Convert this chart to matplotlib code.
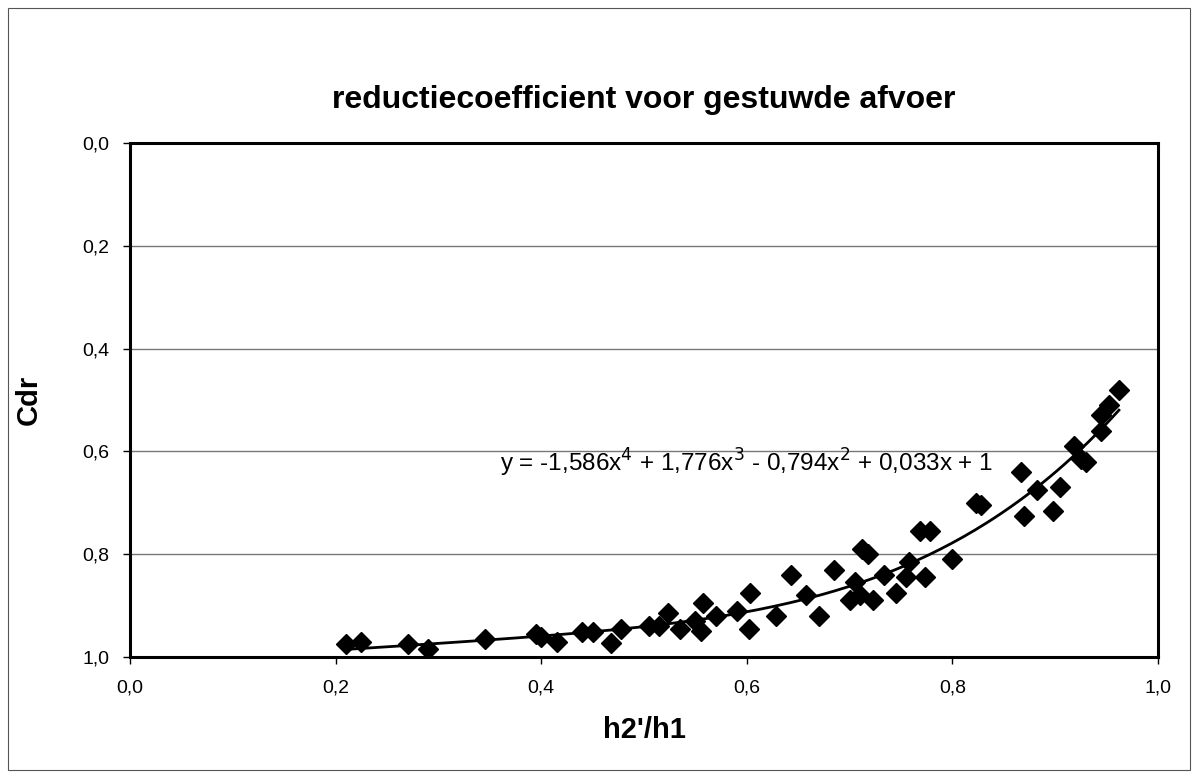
import numpy as np
import matplotlib
matplotlib.use('Agg')
from matplotlib import pyplot as plt
from matplotlib.patches import Rectangle

plt.rcParams['font.family'] = ['Liberation Sans', 'DejaVu Sans']

h_ratio = [0.210, 0.225, 0.270, 0.290, 0.345, 0.395, 0.400, 0.415, 0.440, 0.450,
           0.468, 0.478, 0.505, 0.515, 0.523, 0.535, 0.550, 0.555, 0.557, 0.570,
           0.590, 0.602, 0.603, 0.628, 0.643, 0.658, 0.670, 0.685, 0.700, 0.705,
           0.710, 0.712, 0.718, 0.723, 0.733, 0.745, 0.755, 0.758, 0.768, 0.773,
           0.778, 0.800, 0.823, 0.828, 0.867, 0.870, 0.882, 0.898, 0.905, 0.918,
           0.925, 0.930, 0.945, 0.945, 0.952, 0.962]
cdr = [0.975, 0.970, 0.975, 0.985, 0.965, 0.955, 0.962, 0.970, 0.952, 0.952,
       0.972, 0.945, 0.940, 0.940, 0.915, 0.945, 0.930, 0.950, 0.895, 0.920,
       0.910, 0.945, 0.875, 0.920, 0.840, 0.880, 0.920, 0.830, 0.890, 0.855,
       0.880, 0.790, 0.800, 0.890, 0.840, 0.875, 0.845, 0.815, 0.755, 0.845,
       0.755, 0.810, 0.700, 0.705, 0.640, 0.725, 0.675, 0.715, 0.670, 0.590,
       0.615, 0.620, 0.560, 0.530, 0.510, 0.480]

# polynomial trendline coefficients as shown on the chart (highest power first)
trend_coefs = [-1.586, 1.776, -0.794, 0.033, 1.0]
trend_label = 'y = -1,586x$^4$ + 1,776x$^3$ - 0,794x$^2$ + 0,033x + 1'

ticks = [0.0, 0.2, 0.4, 0.6, 0.8, 1.0]
tick_labels = ['0,0', '0,2', '0,4', '0,6', '0,8', '1,0']

fig = plt.figure(figsize=(11.98, 7.77), dpi=100)
fig.patches.append(Rectangle((8 / 1198, 7 / 777), 1182 / 1198, 762 / 777,
                             transform=fig.transFigure, fill=False,
                             edgecolor='#555555', linewidth=0.8))

ax = fig.add_axes([130 / 1198, 1 - 657 / 777, 1028 / 1198, 514 / 777])

xs = np.linspace(min(h_ratio), max(h_ratio), 200)
ax.plot(xs, np.polyval(trend_coefs, xs), color='black', linewidth=2, zorder=3)
ax.plot(h_ratio, cdr, linestyle='none', marker='D', markersize=10,
        color='black', zorder=4)

ax.set_xlim(0, 1)
ax.set_ylim(1, 0)
ax.set_xticks(ticks)
ax.set_xticklabels(tick_labels)
ax.set_yticks(ticks)
ax.set_yticklabels(tick_labels)
ax.yaxis.grid(True, color='#777777', linewidth=1)
ax.set_axisbelow(True)
ax.tick_params(labelsize=14, length=5, width=1, direction='out')
ax.tick_params(axis='x', pad=11)
ax.tick_params(axis='y', pad=10)
for side in ax.spines.values():
    side.set_linewidth(2.2)

ax.text(0.36, 0.622, trend_label, fontsize=17.5, va='center', ha='left')

ax.set_title('reductiecoefficient voor gestuwde afvoer', fontsize=23,
             fontweight='bold', pad=25)
ax.set_xlabel("h2'/h1", fontsize=21, fontweight='bold', labelpad=14)
ax.set_ylabel('Cdr', fontsize=21, fontweight='bold', labelpad=28)

fig.savefig('out.png', dpi=100)
